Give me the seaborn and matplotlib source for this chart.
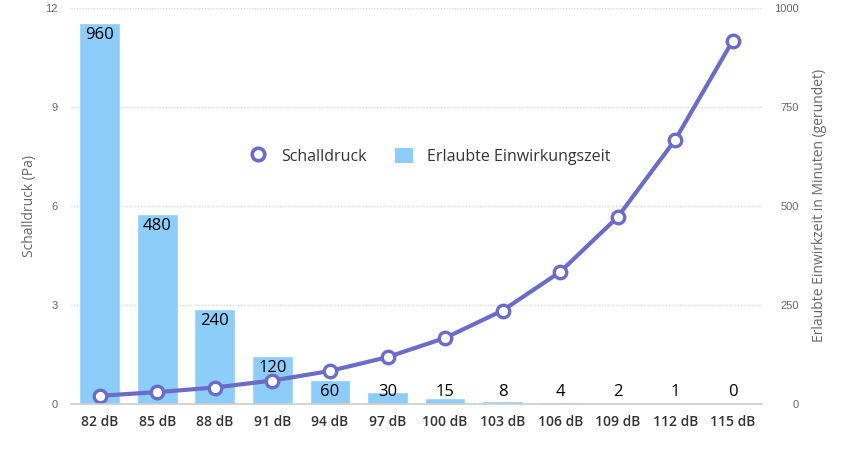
import matplotlib
matplotlib.use('Agg')
import matplotlib.pyplot as plt
from matplotlib.lines import Line2D
from matplotlib.patches import Patch
import seaborn as sns
import numpy as np
import pandas as pd

# data
levels = ['82 dB', '85 dB', '88 dB', '91 dB', '94 dB', '97 dB',
          '100 dB', '103 dB', '106 dB', '109 dB', '112 dB', '115 dB']
pressure = [0.25, 0.36, 0.5, 0.71, 1.0, 1.42, 2.0, 2.83, 4.0, 5.66, 8.0, 11.0]
minutes = [960, 480, 240, 120, 60, 30, 15, 8, 4, 2, 1, 0]

line_col = '#6b6bc9'
bar_col = '#8ccdf9'

df = pd.DataFrame({'level': levels, 'pressure': pressure, 'minutes': minutes})

sns.set_theme(style='white')
plt.rcParams['font.family'] = ['Open Sans', 'DejaVu Sans']

fig = plt.figure(figsize=(8.5, 4.61), dpi=100)
ax = fig.add_axes([0.0835, 0.1236, 0.8125, 0.86])
ax2 = ax.twinx()

# bars on the right axis
sns.barplot(data=df, x='level', y='minutes', color=bar_col, saturation=1,
            width=0.71, ax=ax2, order=levels)
ax2.set_ylim(0, 1000)
ax2.set_yticks([0, 250, 500, 750, 1000])
ax2.grid(axis='y', color='#cfcfcf', linestyle=(0, (1, 1.5)), linewidth=0.8)
ax2.set_axisbelow(True)
for i, v in enumerate(minutes):
    ax2.text(i, max(v - 30, 30), str(v), ha='center', va='center',
             fontsize=12, color='black', zorder=5)

# line on the left axis
sns.pointplot(data=df, x='level', y='pressure', order=levels, color=line_col,
              ax=ax, markers='o', linewidth=3, markersize=9,
              markerfacecolor='white', markeredgewidth=2.4,
              markeredgecolor=line_col)
ax.set_ylim(0, 12)
ax.set_yticks([0, 3, 6, 9, 12])
ax.set_xlim(-0.5, 11.5)
ax.set_zorder(ax2.get_zorder() + 1)
ax.patch.set_visible(False)

for a in (ax, ax2):
    for s in a.spines.values():
        s.set_visible(False)
ax.spines['bottom'].set_visible(True)
ax.spines['bottom'].set_color('#cccccc')
ax.spines['bottom'].set_linewidth(1.2)

ax.set_xlabel('')
ax2.set_xlabel('')
ax.tick_params(axis='x', length=0, pad=8)
for lab in ax.get_xticklabels():
    lab.set_fontsize(10)
    lab.set_fontweight('semibold')
    lab.set_color('#333333')

ax.tick_params(axis='y', length=0, pad=9.5, labelsize=8, labelcolor='#666666')
for lab in ax.get_yticklabels():
    lab.set_family(['Liberation Sans', 'DejaVu Sans'])
ax2.tick_params(axis='y', length=0, pad=27, labelsize=8, labelcolor='#666666')
for lab in ax2.get_yticklabels():
    lab.set_family(['Liberation Sans', 'DejaVu Sans'])
    lab.set_horizontalalignment('right')

ax.set_ylabel('Schalldruck (Pa)', fontsize=10, color='#666666')
ax2.set_ylabel('Erlaubte Einwirkzeit in Minuten (gerundet)', fontsize=10,
               color='#666666')
ax.yaxis.set_label_coords(-0.049, 0.5)
ax2.yaxis.set_label_coords(1.073, 0.5)

handles = [Line2D([], [], linestyle='none', marker='o', markersize=9,
                  markerfacecolor='white', markeredgecolor=line_col,
                  markeredgewidth=2.6),
           Patch(facecolor=bar_col, edgecolor='none')]
ax.legend(handles, ['Schalldruck', 'Erlaubte Einwirkungszeit'], ncol=2,
          frameon=False, loc='center', bbox_to_anchor=(0.52, 0.625),
          fontsize=11.5, handlelength=1.1, handleheight=1.1,
          handletextpad=0.9, columnspacing=1.8, labelcolor='#333333')

fig.savefig('out.png', dpi=100)
